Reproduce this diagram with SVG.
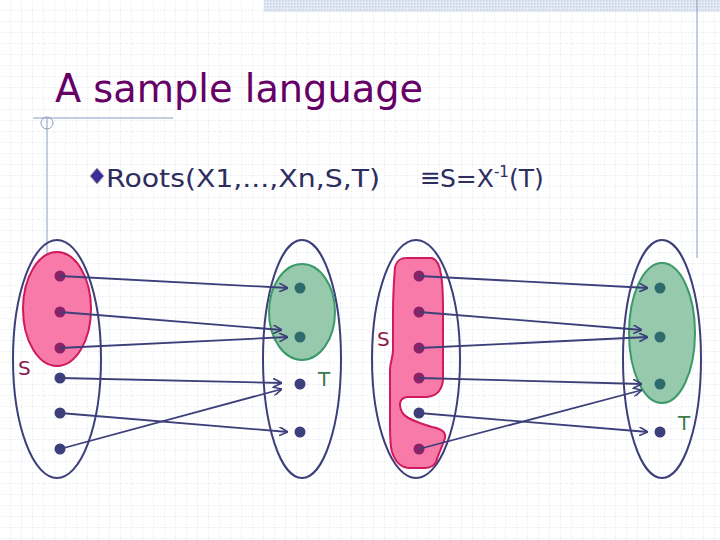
<svg xmlns="http://www.w3.org/2000/svg" width="720" height="540" viewBox="0 0 720 540">
<defs>
<pattern id="grid" width="11" height="11" patternUnits="userSpaceOnUse"><path d="M11 0V11M0 11H11" stroke="#cfd5e0" stroke-width="0.8" stroke-dasharray="1,1" fill="none"/></pattern>
<pattern id="hatch" width="3" height="3" patternUnits="userSpaceOnUse"><rect width="3" height="3" fill="#e4eaf4"/><rect width="1.5" height="1.5" fill="#c5d1e6"/></pattern>
<marker id="ah" viewBox="0 0 10 10" refX="10" refY="5" markerWidth="9" markerHeight="9" markerUnits="userSpaceOnUse" orient="auto"><path d="M0 0L10 5L0 10" fill="none" stroke="#3c3f7a" stroke-width="1.8"/></marker>
<style>
.outer{fill:none;stroke:#3c3f7a;stroke-width:2}
.pink{fill:#f77aa8;stroke:#d01a5c;stroke-width:2}
.green{fill:#97c9ad;stroke:#3c9a6a;stroke-width:2}
.dp{fill:#8a2268}.db{fill:#3c3f7a}.dg{fill:#2f6a6c}
.arr{stroke:#3c3f7a;stroke-width:1.8;fill:none;marker-end:url(#ah)}
.lbl{font-family:"DejaVu Sans",sans-serif;font-size:20px}
.sub{font-family:"DejaVu Sans",sans-serif;font-size:25px;fill:#2e2e5e}
</style>
</defs>
<rect width="720" height="540" fill="#fff"/>
<rect width="720" height="540" fill="url(#grid)"/>
<rect x="264" y="0" width="456" height="12" fill="url(#hatch)"/>
<line x1="697" y1="0" x2="697" y2="258" stroke="#8a9cc0" stroke-width="1"/>
<line x1="33" y1="118" x2="173" y2="118" stroke="#8a9cc0" stroke-width="1"/>
<circle cx="47" cy="123" r="6" fill="none" stroke="#8a9cc0" stroke-width="1"/>
<line x1="47" y1="118" x2="47" y2="293" stroke="#8a9cc0" stroke-width="1"/>
<text x="55" y="102" font-family="DejaVu Sans,sans-serif" font-size="39" fill="#660066" textLength="368" lengthAdjust="spacingAndGlyphs">A sample language</text>
<path d="M97 168L104 176L97 184L90 176Z" fill="#3a2f9a" stroke="#aaa" stroke-width="1"/>
<text class="sub" x="106" y="187" textLength="274" lengthAdjust="spacingAndGlyphs">Roots(X1,...,Xn,S,T)</text>
<text class="sub" x="420" y="186" font-size="16">≡</text>
<text class="sub" x="440" y="187">S=X<tspan font-size="15" dy="-10">-1</tspan><tspan dy="10">(T)</tspan></text>

<g id="left-domain">
<ellipse class="outer" cx="57" cy="359" rx="44" ry="119"/>
<ellipse class="pink" cx="57" cy="309" rx="34" ry="57"/>
<circle class="dp" cx="60" cy="276" r="5.5"/><circle class="dp" cx="60" cy="312" r="5.5"/><circle class="dp" cx="60" cy="348" r="5.5"/>
<circle class="db" cx="60" cy="378" r="5.5"/><circle class="db" cx="60" cy="413" r="5.5"/><circle class="db" cx="60" cy="449" r="5.5"/>
<text class="lbl" x="18" y="375" fill="#8a1a4a">S</text>
</g>
<g id="left-range">
<ellipse class="outer" cx="302" cy="359" rx="39" ry="119"/>
<ellipse class="green" cx="302" cy="312" rx="33" ry="48"/>
<circle class="dg" cx="300" cy="288" r="5.5"/><circle class="dg" cx="300" cy="337" r="5.5"/>
<circle class="db" cx="300" cy="384" r="5.5"/><circle class="db" cx="300" cy="432" r="5.5"/>
<text class="lbl" x="318" y="386" fill="#3c7a4a">T</text>
</g>
<g id="right-domain">
<ellipse class="outer" cx="416" cy="359" rx="44" ry="119"/>
<path class="pink" d="M395 267C397 259 402 258 407 258L432 258C438 260 440 266 441 275C443 285 443 297 443 310L443 380C442 390 436 396 427 397L407 397C400 398 398 404 402 412C405 418 415 422 432 427C442 429 446 432 445 438C443 445 439 452 436 462C433 467 428 468 425 468L410 468C402 468 396 464 392 452C390 445 390 437 390 425L390 370C390 362 393 358 393 350L393 313C393 295 394 280 395 267Z"/>
<circle class="dp" cx="419" cy="276" r="5.5"/><circle class="dp" cx="419" cy="312" r="5.5"/><circle class="dp" cx="419" cy="348" r="5.5"/>
<circle class="dp" cx="419" cy="378" r="5.5"/><circle class="db" cx="419" cy="413" r="5.5"/><circle class="dp" cx="419" cy="449" r="5.5"/>
<text class="lbl" x="377" y="346" fill="#8a1a4a">S</text>
</g>
<g id="right-range">
<ellipse class="outer" cx="662" cy="359" rx="39" ry="119"/>
<ellipse class="green" cx="662" cy="333" rx="33" ry="70"/>
<circle class="dg" cx="660" cy="288" r="5.5"/><circle class="dg" cx="660" cy="337" r="5.5"/><circle class="dg" cx="660" cy="384" r="5.5"/>
<circle class="db" cx="660" cy="432" r="5.5"/>
<text class="lbl" x="678" y="430" fill="#3c7a4a">T</text>
</g>
<g id="connectors">
<line class="arr" x1="60" y1="276" x2="288" y2="288"/>
<line class="arr" x1="60" y1="312" x2="282" y2="330"/>
<line class="arr" x1="60" y1="348" x2="288" y2="337"/>
<line class="arr" x1="60" y1="378" x2="282" y2="383"/>
<line class="arr" x1="60" y1="413" x2="288" y2="432"/>
<line class="arr" x1="60" y1="449" x2="282" y2="389"/>
<line class="arr" x1="419" y1="276" x2="648" y2="288"/>
<line class="arr" x1="419" y1="312" x2="642" y2="330"/>
<line class="arr" x1="419" y1="348" x2="648" y2="337"/>
<line class="arr" x1="419" y1="378" x2="642" y2="384"/>
<line class="arr" x1="419" y1="413" x2="648" y2="432"/>
<line class="arr" x1="419" y1="449" x2="642" y2="390"/>
</g>
</svg>
